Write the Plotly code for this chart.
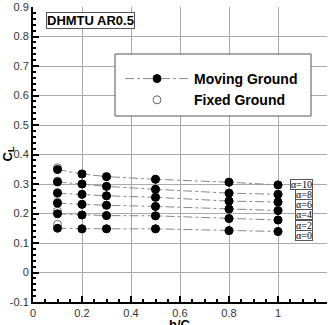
import plotly.graph_objects as go

h_c = [0.1, 0.2, 0.3, 0.5, 0.8, 1.0]
alphas = [10, 8, 6, 4, 2, 0]

moving = {
    10: [0.349, 0.334, 0.325, 0.316, 0.306, 0.297],
    8:  [0.307, 0.300, 0.292, 0.282, 0.269, 0.265],
    6:  [0.269, 0.265, 0.260, 0.255, 0.242, 0.239],
    4:  [0.235, 0.231, 0.228, 0.224, 0.215, 0.210],
    2:  [0.199, 0.195, 0.193, 0.192, 0.183, 0.178],
    0:  [0.150, 0.148, 0.148, 0.148, 0.142, 0.139],
}
fixed = {
    10: [0.355, 0.334, 0.325, 0.316, 0.306, 0.297],
    8:  [0.310, 0.300, 0.292, 0.282, 0.269, 0.265],
    6:  [0.271, 0.265, 0.260, 0.255, 0.242, 0.239],
    4:  [0.238, 0.231, 0.228, 0.224, 0.215, 0.210],
    2:  [0.208, 0.195, 0.193, 0.192, 0.183, 0.178],
    0:  [0.163, 0.148, 0.148, 0.148, 0.142, 0.139],
}
label_y = [0.299, 0.264, 0.230, 0.195, 0.161, 0.127]

x_ticks = [0, 0.2, 0.4, 0.6, 0.8, 1.0, 1.2]
x_ticktext = ["0", "0.2", "0.4", "0.6", "0.8", "1", "1.2"]
y_ticks = [-0.1, 0, 0.1, 0.2, 0.3, 0.4, 0.5, 0.6, 0.7, 0.8, 0.9]
y_ticktext = ["-0.1", "0", "0.1", "0.2", "0.3", "0.4", "0.5", "0.6", "0.7", "0.8", "0.9"]

fx, fy, mx, my = [], [], [], []
for a in alphas:
    fx += h_c + [None]
    fy += fixed[a] + [None]
    mx += h_c + [None]
    my += moving[a] + [None]

fig = go.Figure()
fig.add_trace(go.Scatter(
    x=fx, y=fy, mode="markers", name="<b>Fixed Ground</b>",
    marker=dict(size=8, color="white", line=dict(color="#666666", width=1))))
fig.add_trace(go.Scatter(
    x=mx, y=my, mode="lines+markers", name="<b>Moving Ground</b>",
    line=dict(color="#888888", width=1, dash="dashdot"),
    marker=dict(size=8, color="black", line=dict(color="black", width=1)),
    connectgaps=False))

for a, ly in zip(alphas, label_y):
    fig.add_annotation(x=1.143, y=ly, xref="x", yref="y", text=f"α={a}",
                       showarrow=False, xanchor="right", yanchor="middle",
                       font=dict(family="Liberation Serif", size=10, color="black"),
                       height=9, bordercolor="#555555", borderwidth=1, borderpad=0,
                       bgcolor="white")

fig.add_annotation(x=0.053, y=0.882, xref="x", yref="y", text="<b>DHMTU AR0.5</b>",
                   showarrow=False, xanchor="left", yanchor="top",
                   font=dict(family="Liberation Sans", size=13, color="black"),
                   bordercolor="#555555", borderwidth=1, borderpad=0, bgcolor="white")

# axis titles
fig.add_annotation(x=0.5, y=(302 - 315) / 295, xref="paper", yref="paper",
                   text="<b>h/C</b>", showarrow=False, xanchor="center", yanchor="top",
                   font=dict(family="Liberation Sans", size=13, color="black"))
fig.add_annotation(x=-25 / 294, y=0.5, xref="paper", yref="paper",
                   text="<b>C<sub>L</sub></b>", showarrow=False, textangle=-90,
                   xanchor="center", yanchor="middle",
                   font=dict(family="Liberation Sans", size=13, color="black"))

# legend frame
fig.add_shape(type="rect", xref="paper", yref="paper",
              x0=(115 - 33) / 294, x1=(311 - 33) / 294,
              y0=(302 - 116) / 295, y1=(302 - 54) / 295,
              line=dict(color="#555555", width=1), fillcolor="white", layer="above")

axis_common = dict(showgrid=True, gridcolor="#aaaaaa", gridwidth=1,
                   showline=True, linecolor="black", linewidth=2, mirror=False,
                   ticks="inside", ticklen=6, tickwidth=2, tickcolor="black",
                   tickfont=dict(family="Liberation Sans", size=11, color="#333333"),
                   zeroline=False, automargin=False)

fig.update_xaxes(range=[0, 1.2], tickvals=x_ticks, ticktext=x_ticktext,
                 minor=dict(dtick=0.05, ticks="inside", ticklen=3, tickcolor="black", showgrid=False),
                 **axis_common)
fig.update_yaxes(range=[-0.1, 0.9], tickvals=y_ticks, ticktext=y_ticktext,
                 minor=dict(dtick=0.02, ticks="inside", ticklen=3, tickcolor="black", showgrid=False),
                 **axis_common)

fig.update_layout(
    width=333, height=325,
    margin=dict(l=33, r=6, t=7, b=23),
    plot_bgcolor="white", paper_bgcolor="white",
    showlegend=True,
    legend=dict(x=(120 - 33) / 294, y=(302 - 63) / 295, xanchor="left", yanchor="top",
                bgcolor="rgba(0,0,0,0)", borderwidth=0,
                font=dict(family="Liberation Sans", size=14, color="black"),
                itemwidth=64, traceorder="reversed", tracegroupgap=0),
)

fig.write_html("out.html")
